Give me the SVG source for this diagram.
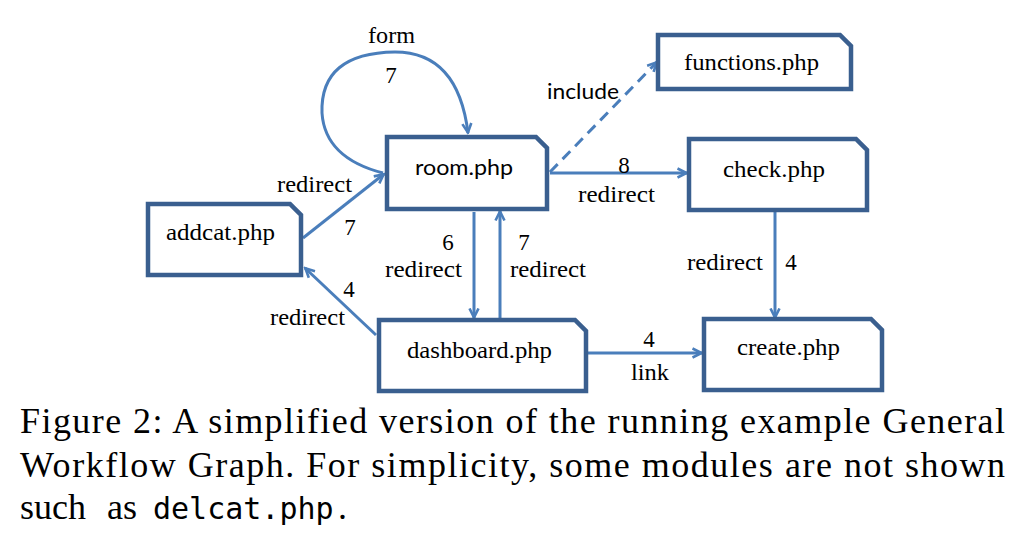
<svg xmlns="http://www.w3.org/2000/svg" width="1025" height="554" viewBox="0 0 1025 554">
<defs>
<style>
.node{fill:#fff;stroke:#3A5F8F;stroke-width:4.5;stroke-linejoin:miter}
.edge{fill:none;stroke:#4A7EBB;stroke-width:3;marker-end:url(#ah)}
.dash{stroke-dasharray:11 7}
.lbl{font-family:"Liberation Serif","Times New Roman",serif;font-size:23px;fill:#000}
.sans{font-family:Lato,"Open Sans","Liberation Sans",sans-serif;font-size:22px;fill:#000}
.cap{font-family:"Liberation Serif","Times New Roman",serif;font-size:36px;fill:#000}
.mono{font-family:"DejaVu Sans Mono","Liberation Mono",monospace;font-size:30px}
</style>
<marker id="ah" viewBox="0 0 12 12" refX="10.5" refY="6" markerWidth="12" markerHeight="12" markerUnits="userSpaceOnUse" orient="auto">
<path d="M1,1.5 L10,6 L1,10.5" fill="none" stroke="#4A7EBB" stroke-width="2.6"/>
</marker>
</defs>
<rect width="1025" height="554" fill="#fff"/>

<g id="connectors">
<path class="edge" d="M383,173 Q325,158 322,113 Q320,53 395,52 Q458,52 468,133"/>
<path class="edge" d="M303,238 L384,174"/>
<path class="edge" d="M376,335 L305,268"/>
<path class="edge" d="M474,212 L474,318"/>
<path class="edge" d="M500,318 L500,211"/>
<path class="edge" d="M550,173 L687,173"/>
<path class="edge dash" d="M550,172 L657,62"/>
<path class="edge" d="M775,212 L775,318"/>
<path class="edge" d="M588,353 L702,353"/>
</g>

<g id="room">
<path class="node" d="M387,137 H536 L547,148 V209 H387 Z"/>
<text class="sans" x="415" y="175" textLength="98" lengthAdjust="spacingAndGlyphs">room.php</text>
</g>
<g id="addcat">
<path class="node" d="M148,204 H290 L301,215 V275 H148 Z"/>
<text class="lbl" x="166" y="240" textLength="109" lengthAdjust="spacingAndGlyphs">addcat.php</text>
</g>
<g id="functions">
<path class="node" d="M658,35 H840 L851,46 V89 H658 Z"/>
<text class="lbl" x="684" y="70" textLength="135" lengthAdjust="spacingAndGlyphs">functions.php</text>
</g>
<g id="check">
<path class="node" d="M689,139 H856 L867,150 V210 H689 Z"/>
<text class="lbl" x="723" y="177" textLength="102" lengthAdjust="spacingAndGlyphs">check.php</text>
</g>
<g id="dashboard">
<path class="node" d="M379,320 H575 L586,331 V391 H379 Z"/>
<text class="lbl" x="407" y="358" textLength="145" lengthAdjust="spacingAndGlyphs">dashboard.php</text>
</g>
<g id="create">
<path class="node" d="M704,319 H871 L882,330 V390 H704 Z"/>
<text class="lbl" x="737" y="355" textLength="103" lengthAdjust="spacingAndGlyphs">create.php</text>
</g>

<g id="edge-labels">
<text class="lbl" x="368" y="43" textLength="47" lengthAdjust="spacingAndGlyphs">form</text>
<text class="lbl" x="391" y="83" text-anchor="middle">7</text>
<text class="lbl" x="277" y="192" textLength="75" lengthAdjust="spacingAndGlyphs">redirect</text>
<text class="lbl" x="350" y="235" text-anchor="middle">7</text>
<text class="lbl" x="448" y="250" text-anchor="middle">6</text>
<text class="lbl" x="385" y="277" textLength="77" lengthAdjust="spacingAndGlyphs">redirect</text>
<text class="lbl" x="524" y="250" text-anchor="middle">7</text>
<text class="lbl" x="510" y="277" textLength="76" lengthAdjust="spacingAndGlyphs">redirect</text>
<text class="lbl" x="349" y="297" text-anchor="middle">4</text>
<text class="lbl" x="270" y="325" textLength="75" lengthAdjust="spacingAndGlyphs">redirect</text>
<text class="lbl" x="624" y="173" text-anchor="middle">8</text>
<text class="lbl" x="578" y="202" textLength="77" lengthAdjust="spacingAndGlyphs">redirect</text>
<text class="sans" x="547" y="99" textLength="72" lengthAdjust="spacingAndGlyphs">include</text>
<text class="lbl" x="687" y="270" textLength="76" lengthAdjust="spacingAndGlyphs">redirect</text>
<text class="lbl" x="791" y="270" text-anchor="middle">4</text>
<text class="lbl" x="649" y="347" text-anchor="middle">4</text>
<text class="lbl" x="631" y="380" textLength="38" lengthAdjust="spacingAndGlyphs">link</text>
</g>

<g id="caption">
<text class="cap" x="20" y="433" textLength="985" lengthAdjust="spacing">Figure 2:  A simplified version of the running example General</text>
<text class="cap" x="20" y="477" textLength="985" lengthAdjust="spacing">Workflow Graph.  For simplicity, some modules are not shown</text>
<text class="cap" x="20" y="519">such <tspan x="107">as</tspan><tspan class="mono" x="153">delcat.php</tspan><tspan x="338">.</tspan></text>
</g>
</svg>
